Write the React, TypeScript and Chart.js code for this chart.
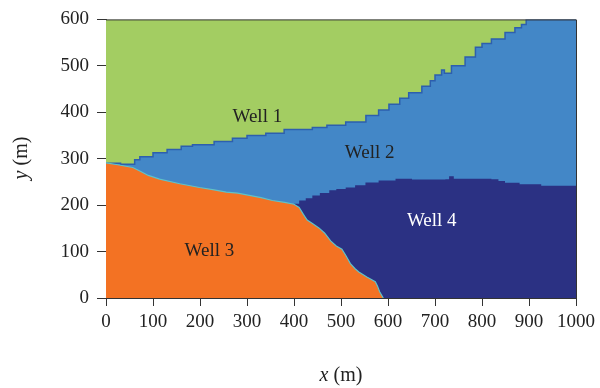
import React, { useEffect, useRef } from "react";
import { Chart, registerables } from "chart.js";

Chart.register(...registerables);

const xTicks = [0, 100, 200, 300, 400, 500, 600, 700, 800, 900, 1000];
const yTicks = [0, 100, 200, 300, 400, 500, 600];

// Well 1 / Well 2 boundary (green above, blue below)
const wellA_x = [0, 31, 61, 72, 100, 130, 160, 184, 230, 269, 300, 340, 379, 439, 470, 510, 553, 580, 602, 625, 644, 672, 690, 700, 714, 720, 735, 764, 786, 800, 820, 849, 870, 884, 894, 1000];
const wellA_y = [290, 288, 298, 304, 313, 320, 327, 330, 337, 344, 350, 355, 363, 367, 372, 379, 393, 405, 417, 430, 442, 456, 468, 480, 491, 484, 500, 519, 540, 548, 558, 572, 582, 589, 600, 600];

// Well 2 / Well 4 boundary (blue above, dark below)
const wellC_x = [400, 411, 425, 439, 455, 475, 490, 510, 530, 552, 580, 616, 651, 722, 730, 740, 820, 835, 849, 880, 926, 1000];
const wellC_y = [203, 210, 215, 221, 226, 232, 235, 238, 243, 249, 253, 257, 255, 256, 262, 257, 256, 252, 248, 245, 242, 241];

// Well 3 boundary (orange below)
const wellB_x = [0, 25, 57, 75, 90, 114, 157, 199, 230, 256, 280, 305, 330, 354, 380, 400, 411, 420, 428, 440, 453, 465, 478, 490, 502, 510, 520, 530, 538, 555, 573, 578, 582, 590];
const wellB_y = [291, 287, 281, 272, 264, 256, 246, 238, 233, 228, 226, 221, 216, 210, 206, 202, 195, 180, 168, 160, 151, 140, 123, 112, 105, 92, 74, 63, 56, 45, 35, 25, 14, 0];

const wellLabels = ["Well 1", "Well 2", "Well 3", "Well 4"];
const wellLabelX = [322, 561, 220, 693];
const wellLabelY = [390, 312, 102, 165];
const wellLabelColor = ["#222222", "#222222", "#222222", "#ffffff"];

const pts = (xs: number[], ys: number[]) => xs.map((x, i) => ({ x, y: ys[i] }));

const SERIF = "'Liberation Serif', 'DejaVu Serif', serif";

export default function App() {
  const ref = useRef<HTMLCanvasElement | null>(null);

  useEffect(() => {
    if (!ref.current) return;
    const overlay = {
      id: "overlay",
      afterDatasetsDraw(chart: any) {
        const { ctx, scales, chartArea } = chart;
        const xs = scales.x, ys = scales.y;
        ctx.save();
        // frame top & right
        ctx.strokeStyle = "#333333";
        ctx.lineWidth = 1;
        ctx.beginPath();
        ctx.moveTo(chartArea.left, chartArea.top + 0.5);
        ctx.lineTo(chartArea.right + 0.5, chartArea.top + 0.5);
        ctx.lineTo(chartArea.right + 0.5, chartArea.bottom);
        ctx.stroke();
        // well labels
        ctx.font = `19px ${SERIF}`;
        ctx.textAlign = "center";
        ctx.textBaseline = "middle";
        wellLabels.forEach((t, i) => {
          ctx.fillStyle = wellLabelColor[i];
          ctx.fillText(t, xs.getPixelForValue(wellLabelX[i]), ys.getPixelForValue(wellLabelY[i]));
        });
        // axis titles
        const drawTitle = (cx: number, cy: number, rot: number, v: string) => {
          ctx.save();
          ctx.translate(cx, cy);
          ctx.rotate(rot);
          ctx.fillStyle = "#222222";
          ctx.textBaseline = "middle";
          ctx.textAlign = "left";
          const itFont = `italic 20px ${SERIF}`;
          const nFont = `20px ${SERIF}`;
          ctx.font = itFont;
          const w1 = ctx.measureText(v).width;
          ctx.font = nFont;
          const rest = " (m)";
          const w2 = ctx.measureText(rest).width;
          const start = -(w1 + w2) / 2;
          ctx.font = itFont;
          ctx.fillText(v, start, 0);
          ctx.font = nFont;
          ctx.fillText(rest, start + w1, 0);
          ctx.restore();
        };
        drawTitle((chartArea.left + chartArea.right) / 2, 376, 0, "x");
        drawTitle(22, 158, -Math.PI / 2, "y");
        ctx.restore();
      },
    };

    const chart = new Chart(ref.current, {
      type: "line",
      data: {
        datasets: [
          {
            label: "Well 1",
            data: pts([0, 1000], [600, 600]),
            backgroundColor: "#a3cd62",
            borderColor: "#a3cd62",
            borderWidth: 0,
            fill: "start",
            pointRadius: 0,
            order: 4,
          },
          {
            label: "Well 2",
            data: pts(wellA_x, wellA_y),
            backgroundColor: "#4387c7",
            borderColor: "#2d5fae",
            borderWidth: 1.5,
            stepped: true,
            fill: "start",
            pointRadius: 0,
            order: 3,
          },
          {
            label: "Well 4",
            data: pts(wellC_x, wellC_y),
            backgroundColor: "#2b3183",
            borderColor: "#2b3183",
            borderWidth: 0,
            stepped: true,
            fill: "start",
            pointRadius: 0,
            order: 2,
          },
          {
            label: "Well 3",
            data: pts(wellB_x, wellB_y),
            backgroundColor: "#f37223",
            borderColor: "#5fc2c8",
            borderWidth: 1.2,
            fill: "start",
            pointRadius: 0,
            tension: 0,
            order: 1,
          },
        ] as any,
      },
      options: {
        animation: false,
        responsive: false,
        maintainAspectRatio: false,
        layout: { padding: { top: 13, right: 22, left: 0, bottom: 0 } },
        plugins: { legend: { display: false }, tooltip: { enabled: false }, title: { display: false } },
        scales: {
          x: {
            type: "linear",
            min: 0,
            max: 1000,
            afterBuildTicks: (s: any) => { s.ticks = xTicks.map((v) => ({ value: v })); },
            afterFit: (s: any) => { s.height = 90; },
            grid: { drawOnChartArea: false, drawTicks: true, tickLength: 8, color: "#333333" },
            border: { display: true, color: "#333333", width: 1 },
            ticks: { color: "#222222", font: { family: SERIF, size: 19 }, padding: 5, maxRotation: 0, autoSkip: false, callback: (v: any) => String(v) },
          },
          y: {
            type: "linear",
            min: 0,
            max: 600,
            afterBuildTicks: (s: any) => { s.ticks = yTicks.map((v) => ({ value: v })); },
            afterFit: (s: any) => { s.width = 106; },
            grid: { drawOnChartArea: false, drawTicks: true, tickLength: 9, color: "#333333" },
            border: { display: true, color: "#333333", width: 1 },
            ticks: { color: "#222222", font: { family: SERIF, size: 19 }, padding: 8, autoSkip: false, callback: (v: any) => String(v) },
          },
        },
      },
      plugins: [overlay],
    });
    return () => chart.destroy();
  }, []);

  return (
    <div style={{ position: "fixed", left: 0, top: 0, width: 600, height: 388, background: "#ffffff" }}>
      <canvas ref={ref} width={600} height={388} style={{ width: 600, height: 388, display: "block" }} />
    </div>
  );
}
